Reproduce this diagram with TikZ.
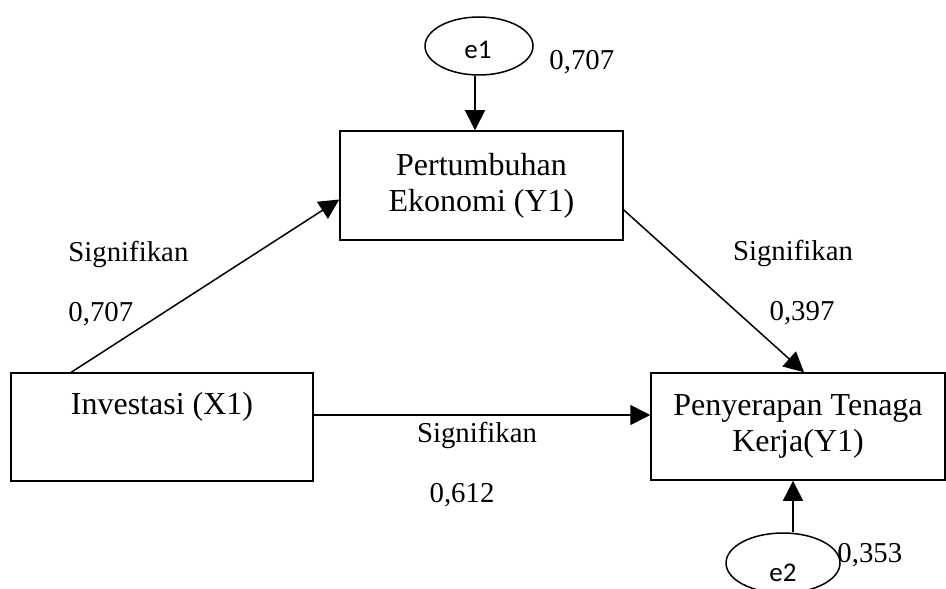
\documentclass[tikz,border=0pt]{standalone}
\usepackage{fontspec}
\setmainfont{Liberation Serif}
\newfontfamily\efont{Carlito}
\usetikzlibrary{arrows.meta,shapes.geometric}
\begin{document}
\begin{tikzpicture}[x=0.5pt,y=-0.5pt,
  box/.style={draw,line width=0.75pt,inner sep=0pt,align=center,
    font=\fontsize{16}{18}\selectfont},
  boxtxt/.style={inner sep=0pt,font=\fontsize{16}{18}\selectfont},
  lbl/.style={inner sep=0pt,font=\fontsize{14.4}{17}\selectfont},
  err/.style={draw,ellipse,line width=0.75pt,inner sep=0pt},
  etxt/.style={inner sep=0pt,font=\efont\fontsize{13.5}{16}\selectfont},
  arr/.style={line width=0.75pt,-{Triangle[length=10pt,width=10pt]}}]
\clip (0,0) rectangle (946,588);
\fill[white] (0,0) rectangle (946,588);

% boxes
\node[box,minimum width=141.5pt,minimum height=54.5pt] (pert) at (481.5,185.5)
  {Pertumbuhan\\Ekonomi (Y1)};
\node[box,minimum width=151pt,minimum height=54pt] (inv) at (162,427) {};
\node[boxtxt,anchor=base] (invt) at (162,414) {Investasi (X1)};
\node[box,minimum width=147pt,minimum height=53.5pt] (pen) at (798,426.5)
  {Penyerapan Tenaga\\Kerja(Y1)};

% error terms
\node[err,minimum width=54pt,minimum height=29pt] (e1) at (479,46) {};
\node[etxt] (e1t) at (478,50) {e1};
\node[err,minimum width=57pt,minimum height=30pt] (e2) at (783,563) {};
\node[etxt] (e2t) at (783,573) {e2};

% labels
\node[lbl,anchor=base west] (s1) at (68,261) {Signifikan};
\node[lbl,anchor=base west] (v1) at (68,321) {0,707};
\node[lbl,anchor=base] (s2) at (793,260) {Signifikan};
\node[lbl,anchor=base] (v2) at (802,320) {0,397};
\node[lbl,anchor=base] (s3) at (477,442) {Signifikan};
\node[lbl,anchor=base] (v3) at (462,502) {0,612};
\node[lbl,anchor=base west] (r1) at (549,70) {0,707};
\node[lbl,anchor=base west] (r2) at (837,562) {0,353};

% connectors
\coordinate (a1) at ([xshift=-2pt]e1.south);
\draw[arr] (a1) -- (a1 |- pert.north);
\draw[arr] ([xshift=30.5pt]inv.north west) -- ([yshift=-7pt]pert.west);
\draw[arr] ([yshift=-12.25pt]pert.east) -- ([xshift=3pt]pen.north);
\coordinate (a3) at ([yshift=6pt]inv.east);
\draw[arr] (a3) -- (a3 -| pen.west);
\coordinate (a4) at ([xshift=-2.5pt]pen.south);
\draw[arr] (a4 |- e2.north) -- (a4);
\end{tikzpicture}
\end{document}
